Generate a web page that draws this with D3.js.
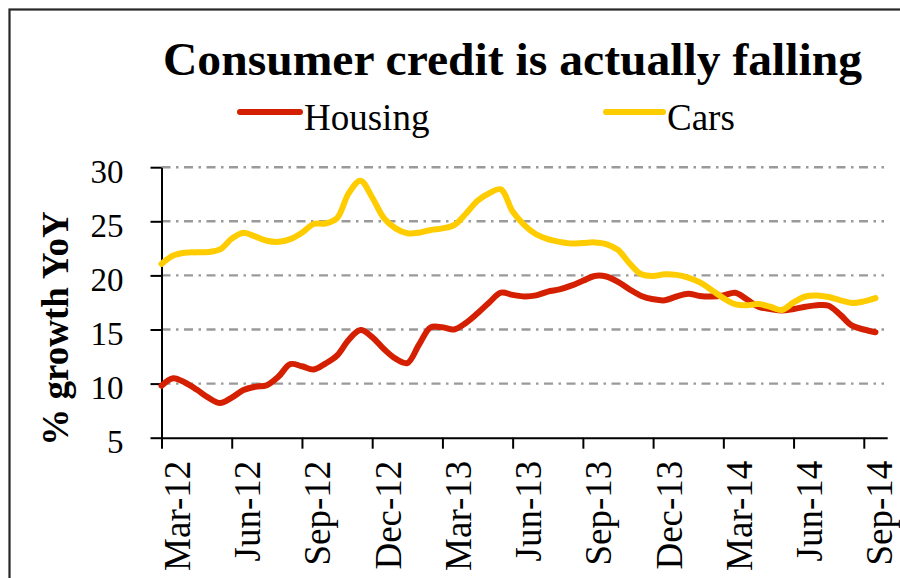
<!DOCTYPE html>
<html>
<head>
<meta charset="utf-8">
<script src="https://cdn.jsdelivr.net/npm/d3@7"></script>
<style>
  html, body { margin: 0; padding: 0; background: #fff; }
  svg { display: block; }
  text { font-family: "Liberation Serif", "DejaVu Serif", serif; fill: #000; }
</style>
</head>
<body>
<svg id="chart" width="900" height="578"></svg>
<script>
// Quarterly axis labels (one every three months, starting Mar-12)
const tickLabels = ["Mar-12", "Jun-12", "Sep-12", "Dec-12", "Mar-13", "Jun-13",
                    "Sep-13", "Dec-13", "Mar-14", "Jun-14", "Sep-14"];
const yTicks = [5, 10, 15, 20, 25, 30];
const gridValues = [10, 15, 20, 25, 30];

// Year-on-year growth (%), sampled every half month from Mar-12
const housing = [
  9.8, 10.5, 10.1, 9.45, 8.7, 8.2, 8.7, 9.4, 9.7, 9.85, 10.65, 11.8, 11.6, 11.3, 11.85, 12.6,
  14.05, 14.95, 14.3, 13.2, 12.3, 11.9, 13.6, 15.2, 15.2, 15.0, 15.6, 16.5, 17.5, 18.4, 18.2, 18.05,
  18.15, 18.5, 18.7, 19.05, 19.5, 19.95, 19.9, 19.4, 18.7, 18.1, 17.8, 17.7, 18.05, 18.3, 18.1, 18.05,
  18.15, 18.4, 17.8, 17.1, 16.9, 16.75, 16.9, 17.1, 17.25, 17.2, 16.35, 15.35, 15.0, 14.75
];
const cars = [
  21.06, 21.83, 22.1, 22.13, 22.17, 22.4, 23.4, 23.95, 23.6, 23.2, 23.1, 23.35, 23.95, 24.75, 24.8, 25.3,
  27.6, 28.75, 27.2, 25.3, 24.35, 23.9, 23.95, 24.2, 24.35, 24.65, 25.7, 26.9, 27.6, 27.95, 25.9, 24.65,
  23.8, 23.35, 23.1, 22.95, 23.0, 23.05, 22.9, 22.35, 21.1, 20.1, 19.95, 20.1, 20.05, 19.8, 19.35, 18.65,
  17.9, 17.35, 17.25, 17.35, 17.1, 16.8, 17.5, 18.05, 18.15, 18.0, 17.7, 17.45, 17.6, 17.9
];

const seriesNames = ["Housing", "Cars"];
const seriesColors = ["#d42000", "#ffcc00"];

const svg = d3.select("#chart");

// Outer frame
svg.append("rect")
  .attr("x", 9.5).attr("y", 9.5)
  .attr("width", 1000).attr("height", 1000)
  .attr("fill", "none")
  .attr("stroke", "#262626")
  .attr("stroke-width", 2.2);

// Scales: x in months since Mar-12
const x = d3.scaleLinear().domain([0, 31]).range([161.5, 887.2]);
const y = d3.scaleLinear().domain([5, 30]).range([437.7, 167.2]);
const step = 0.5; // months between samples

// Gridlines (dash-dot)
svg.append("g").selectAll("line")
  .data(gridValues)
  .join("line")
  .attr("x1", x(0)).attr("x2", 884)
  .attr("y1", d => y(d)).attr("y2", d => y(d))
  .attr("stroke", "#9a9a9a")
  .attr("stroke-width", 2.4)
  .attr("stroke-dasharray", "9,5.5,2.5,5.5");

// Title
svg.append("text")
  .attr("x", 512.5).attr("y", 75)
  .attr("text-anchor", "middle")
  .attr("font-size", 47)
  .attr("font-weight", "bold")
  .attr("textLength", 699)
  .attr("lengthAdjust", "spacingAndGlyphs")
  .text("Consumer credit is actually falling");

// Legend
const legendPos = [{ x1: 240, x2: 300, tx: 304 }, { x1: 606, x2: 663, tx: 667 }];
seriesNames.forEach((name, i) => {
  const g = svg.append("g");
  g.append("line")
    .attr("x1", legendPos[i].x1).attr("x2", legendPos[i].x2)
    .attr("y1", 112).attr("y2", 112)
    .attr("stroke", seriesColors[i])
    .attr("stroke-width", 6)
    .attr("stroke-linecap", "round");
  g.append("text")
    .attr("x", legendPos[i].tx).attr("y", 130)
    .attr("font-size", 37)
    .text(name);
});

// Y axis
const yAxis = d3.axisLeft(y).tickValues(yTicks).tickSize(11).tickSizeOuter(0).tickPadding(27);
const gy = svg.append("g").attr("transform", `translate(${x(0)},0)`).call(yAxis);
gy.select(".domain").attr("stroke", "#000").attr("stroke-width", 2);
gy.selectAll(".tick line").attr("stroke", "#000").attr("stroke-width", 2);
gy.selectAll(".tick text")
  .attr("font-family", "Liberation Serif")
  .attr("font-size", 33)
  .attr("fill", "#000")
  .attr("dy", "0.45em");

// X axis
const xAxis = d3.axisBottom(x)
  .tickValues(tickLabels.map((_, i) => i * 3))
  .tickSize(11).tickSizeOuter(0)
  .tickFormat((d, i) => tickLabels[i]);
const gx = svg.append("g").attr("transform", `translate(0,${y(5)})`).call(xAxis);
gx.select(".domain").attr("stroke", "#000").attr("stroke-width", 2);
gx.selectAll(".tick line").attr("stroke", "#000").attr("stroke-width", 2);
gx.selectAll(".tick text")
  .attr("font-family", "Liberation Serif")
  .attr("font-size", 37)
  .attr("fill", "#000")
  .attr("text-anchor", "end")
  .attr("dy", null)
  .attr("y", 0)
  .attr("transform", "translate(28,23) rotate(-90)");

// Y axis title
svg.append("text")
  .attr("transform", "translate(68,328.5) rotate(-90)")
  .attr("text-anchor", "middle")
  .attr("font-size", 37)
  .attr("font-weight", "bold")
  .text("% growth YoY");

// Series lines
const line = d3.line()
  .x((d, i) => x(i * step))
  .y(d => y(d))
  .curve(d3.curveCatmullRom.alpha(0.5));

[housing, cars].forEach((values, i) => {
  svg.append("path")
    .datum(values)
    .attr("fill", "none")
    .attr("stroke", seriesColors[i])
    .attr("stroke-width", 6)
    .attr("stroke-linejoin", "round")
    .attr("stroke-linecap", "round")
    .attr("d", line);
});
</script>
</body>
</html>
